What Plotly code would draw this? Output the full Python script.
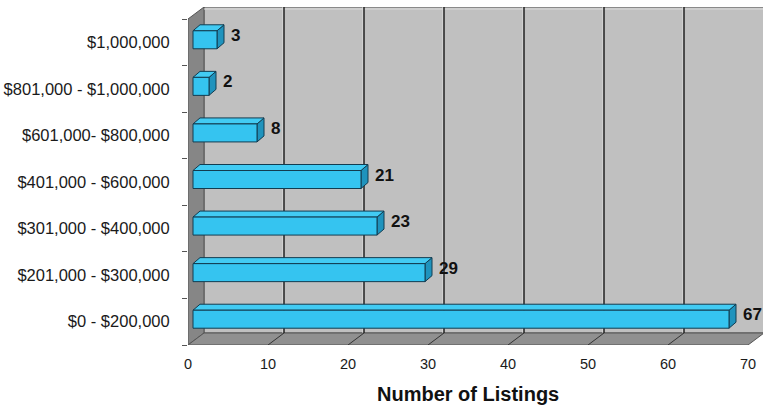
import plotly.graph_objects as go

# Price bands (bottom to top) and number of listings in each band
price_bands = [
    "$0 - $200,000",
    "$201,000 - $300,000",
    "$301,000 - $400,000",
    "$401,000 - $600,000",
    "$601,000- $800,000",
    "$801,000 - $1,000,000",
    "$1,000,000",
]
listings = [67, 29, 23, 21, 8, 2, 3]
x_ticks = [0, 10, 20, 30, 40, 50, 60, 70]

# ---- geometry of the pseudo-3D box (axis units) ----
X_MAX = 70
PX_PER_X = 8.0           # plot is 575 px wide over 71.875 units
PX_PER_Y = 338 / 7.2576  # plot height over y-range
WALL_DX = 16 / PX_PER_X  # depth of the box
WALL_DY = 12 / PX_PER_Y
Y_LO, Y_HI = -0.5, len(price_bands) - 0.5

# bar depth: front face and back face offsets (pixels -> units)
F_DX, F_DY = 5 / PX_PER_X, 2.5 / PX_PER_Y
B_DX, B_DY = 12 / PX_PER_X, 8.5 / PX_PER_Y
HALF_H = 9 / PX_PER_Y

BACK = "#c0c0c0"
SIDE = "#868686"
FLOOR = "#909090"
EDGE = "#555555"


def path(points):
    return "M " + " L ".join(f"{x},{y}" for x, y in points) + " Z"


shapes = []
# back wall
shapes.append(dict(type="path", xref="x", yref="y", layer="below",
                   path=path([(WALL_DX, Y_LO + WALL_DY), (X_MAX + WALL_DX, Y_LO + WALL_DY),
                              (X_MAX + WALL_DX, Y_HI + WALL_DY), (WALL_DX, Y_HI + WALL_DY)]),
                   fillcolor=BACK, line=dict(color=EDGE, width=1)))
# left wall
shapes.append(dict(type="path", xref="x", yref="y", layer="below",
                   path=path([(0, Y_LO), (WALL_DX, Y_LO + WALL_DY),
                              (WALL_DX, Y_HI + WALL_DY), (0, Y_HI)]),
                   fillcolor=SIDE, line=dict(color=EDGE, width=1)))
# floor
shapes.append(dict(type="path", xref="x", yref="y", layer="below",
                   path=path([(0, Y_LO), (X_MAX, Y_LO),
                              (X_MAX + WALL_DX, Y_LO + WALL_DY), (WALL_DX, Y_LO + WALL_DY)]),
                   fillcolor=FLOOR, line=dict(color=EDGE, width=1)))
# light rim along the top of the back wall
shapes.append(dict(type="line", xref="x", yref="y", layer="below",
                   x0=WALL_DX, x1=X_MAX + WALL_DX,
                   y0=Y_HI + WALL_DY - 2 / PX_PER_Y, y1=Y_HI + WALL_DY - 2 / PX_PER_Y,
                   line=dict(color="#dcdcdc", width=1)))
# gridlines: vertical on back wall, diagonal across the floor
for v in x_ticks[1:-1]:
    shapes.append(dict(type="line", xref="x", yref="y", layer="below",
                       x0=v + WALL_DX - 1 / PX_PER_X, x1=v + WALL_DX - 1 / PX_PER_X,
                       y0=Y_LO + WALL_DY, y1=Y_HI + WALL_DY,
                       line=dict(color="#e2e2e2", width=1)))
    shapes.append(dict(type="line", xref="x", yref="y", layer="below",
                       x0=v + WALL_DX, x1=v + WALL_DX,
                       y0=Y_LO + WALL_DY, y1=Y_HI + WALL_DY,
                       line=dict(color="#222222", width=1.5)))
    shapes.append(dict(type="line", xref="x", yref="y", layer="below",
                       x0=v, x1=v + WALL_DX, y0=Y_LO, y1=Y_LO + WALL_DY,
                       line=dict(color="#333333", width=1)))

# ---- bars: front, top and side faces built from the values ----
front_x, front_y, top_x, top_y, side_x, side_y = [], [], [], [], [], []
for i, v in enumerate(listings):
    y0f, y1f = i + F_DY - HALF_H, i + F_DY + HALF_H
    x0f, x1f = F_DX, v + F_DX
    y0b, y1b = i + B_DY - HALF_H, i + B_DY + HALF_H
    x0b, x1b = B_DX, v + B_DX
    front_x += [x0f, x1f, x1f, x0f, x0f, None]
    front_y += [y0f, y0f, y1f, y1f, y0f, None]
    top_x += [x0f, x1f, x1b, x0b, x0f, None]
    top_y += [y1f, y1f, y1b, y1b, y1f, None]
    side_x += [x1f, x1b, x1b, x1f, x1f, None]
    side_y += [y0f, y0b, y1b, y1f, y0f, None]

fig = go.Figure()
for xs, ys, col in [(side_x, side_y, "#1f93bd"),
                    (top_x, top_y, "#42cbf3"),
                    (front_x, front_y, "#35c4f0")]:
    fig.add_trace(go.Scatter(x=xs, y=ys, mode="lines", fill="toself",
                             fillcolor=col, line=dict(color="#123c50", width=1),
                             hoverinfo="skip", showlegend=False))

# value labels beside each bar
annotations = []
for i, v in enumerate(listings):
    annotations.append(dict(x=v + B_DX, y=i, xref="x", yref="y",
                            text=f"<b>{v}</b>", showarrow=False, xanchor="left",
                            yanchor="middle", xshift=5, yshift=7,
                            font=dict(family="Liberation Sans, Arial", size=17,
                                      color="#111111")))
annotations.append(dict(x=X_MAX / 2, y=0, xref="x", yref="paper",
                        text="<b>Number of Listings</b>", showarrow=False,
                        xanchor="center", yanchor="middle", yshift=-49,
                        font=dict(family="Liberation Sans, Arial", size=20,
                                  color="#111111")))

fig.update_layout(
    width=763, height=406,
    margin=dict(l=188, r=0, t=7, b=61),
    paper_bgcolor="white", plot_bgcolor="white",
    shapes=shapes, annotations=annotations,
    font=dict(family="Liberation Sans, Arial", color="#1a1a1a"),
    xaxis=dict(range=[0, 71.875], tickvals=x_ticks, ticks="",
               showgrid=False, zeroline=False, showline=False,
               ticklabelstandoff=8, tickfont=dict(size=14.5)),
    yaxis=dict(range=[Y_LO, Y_HI + WALL_DY],
               tickvals=list(range(len(price_bands))), ticktext=price_bands,
               ticks="outside", ticklen=5, tickcolor="rgba(0,0,0,0)",
               minor=dict(tickvals=[k - 0.5 for k in range(len(price_bands) + 1)],
                          ticks="outside", ticklen=5, tickcolor="#555555"),
               showgrid=False, zeroline=False, showline=False,
               ticklabelstandoff=9, tickfont=dict(size=16.5)),
)

fig.write_html("out.html")
